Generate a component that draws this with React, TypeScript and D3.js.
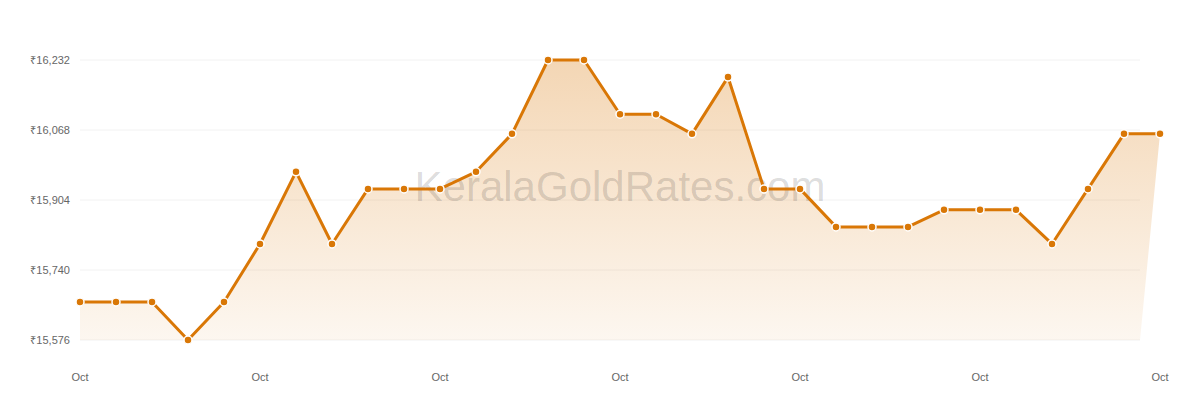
import React, { useEffect, useRef } from 'react';
import * as d3 from 'd3';

const days = d3.range(31);
const prices = [
  15665, 15665, 15665, 15576, 15665, 15801, 15970, 15801, 15930, 15930,
  15930, 15970, 16059, 16232, 16232, 16105, 16105, 16059, 16192, 15930,
  15930, 15841, 15841, 15841, 15881, 15881, 15881, 15801, 15930, 16059, 16059,
];
const yTicks = [15576, 15740, 15904, 16068, 16232];
const xTickIdx = [0, 5, 10, 15, 20, 25, 30];
const xTickLabel = 'Oct';

const W = 1200;
const H = 400;
const LINE = '#d97706';
const FONT = 'Arial, "Liberation Sans", Helvetica, sans-serif';

const App: React.FC = () => {
  const svgRef = useRef<SVGSVGElement>(null);

  useEffect(() => {
    if (!svgRef.current) return;
    const svg = d3.select(svgRef.current);
    svg.selectAll('*').remove();

    const x = d3.scaleLinear().domain([0, 30]).range([80, 1160]);
    const y = d3.scaleLinear().domain([15576, 16232]).range([340, 60]);
    const gridRight = 1140;

    const defs = svg.append('defs');
    const grad = defs
      .append('linearGradient')
      .attr('id', 'fillGrad')
      .attr('x1', 0)
      .attr('y1', 0)
      .attr('x2', 0)
      .attr('y2', 1);
    grad.append('stop').attr('offset', '0%').attr('stop-color', LINE).attr('stop-opacity', 0.3);
    grad.append('stop').attr('offset', '100%').attr('stop-color', LINE).attr('stop-opacity', 0.06);

    // grid
    svg
      .append('g')
      .selectAll('line')
      .data(yTicks)
      .enter()
      .append('line')
      .attr('x1', x(0))
      .attr('x2', gridRight)
      .attr('y1', (d) => y(d))
      .attr('y2', (d) => y(d))
      .attr('stroke', '#f2f2f2')
      .attr('stroke-width', 1);

    // y labels
    svg
      .append('g')
      .selectAll('text')
      .data(yTicks)
      .enter()
      .append('text')
      .attr('x', 70)
      .attr('y', (d) => y(d))
      .attr('dy', '0.35em')
      .attr('text-anchor', 'end')
      .style('font-family', FONT)
      .style('font-size', '11px')
      .style('fill', '#666')
      .text((d) => '₹' + d3.format(',')(d));

    // x labels
    svg
      .append('g')
      .selectAll('text')
      .data(xTickIdx)
      .enter()
      .append('text')
      .attr('x', (d) => x(d))
      .attr('y', 377)
      .attr('dy', '0.35em')
      .attr('text-anchor', 'middle')
      .style('font-family', FONT)
      .style('font-size', '11px')
      .style('fill', '#666')
      .text(xTickLabel);

    // area (bottom right sits at grid edge)
    const linePath = d3
      .line<number>()
      .x((_, i) => x(days[i]))
      .y((d) => y(d))(prices);
    svg
      .append('path')
      .attr('d', `${linePath}L${gridRight},${y(15576)}L${x(0)},${y(15576)}Z`)
      .attr('fill', 'url(#fillGrad)');

    // watermark
    svg
      .append('text')
      .attr('x', 620)
      .attr('y', 201)
      .attr('text-anchor', 'middle')
      .style('font-family', FONT)
      .style('font-size', '42px')
      .style('fill', 'rgba(0,0,0,0.15)')
      .text('KeralaGoldRates.com');

    // line
    svg
      .append('path')
      .attr('d', linePath)
      .attr('fill', 'none')
      .attr('stroke', LINE)
      .attr('stroke-width', 3)
      .attr('stroke-linejoin', 'round');

    // points
    svg
      .append('g')
      .selectAll('circle')
      .data(prices)
      .enter()
      .append('circle')
      .attr('cx', (_, i) => x(days[i]))
      .attr('cy', (d) => y(d))
      .attr('r', 4)
      .attr('fill', LINE)
      .attr('stroke', '#fff')
      .attr('stroke-width', 1.5);
  }, []);

  return (
    <div style={{ position: 'absolute', left: 0, top: 0, width: W, height: H, background: '#fff' }}>
      <svg ref={svgRef} width={W} height={H}></svg>
    </div>
  );
};

export default App;
